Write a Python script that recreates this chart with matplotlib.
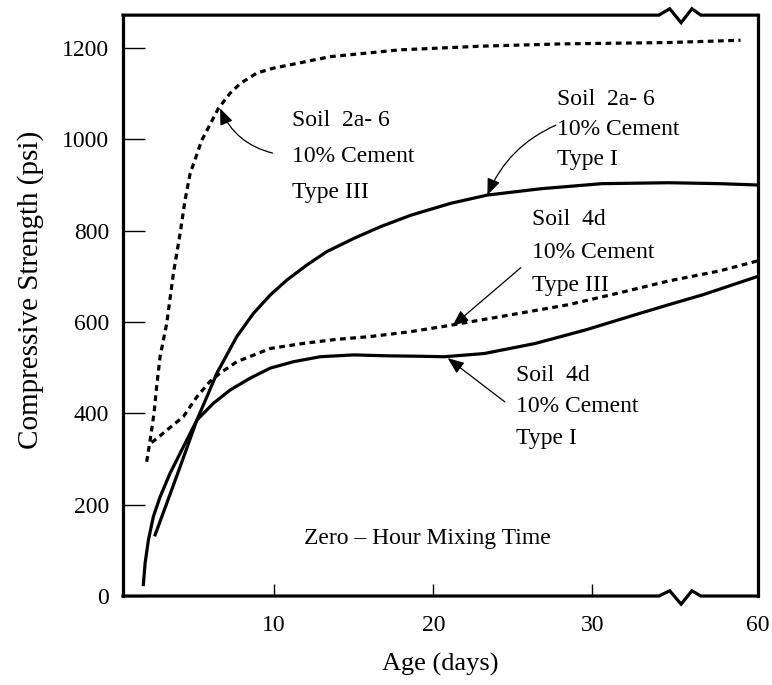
import matplotlib
matplotlib.use("Agg")
import matplotlib.pyplot as plt
import numpy as np

plt.rcParams['font.family'] = ['Liberation Serif', 'DejaVu Serif']

# Age (days) and compressive strength (psi)
soil4d_t1_days = [1.78, 1.89, 2.1, 2.41, 2.83, 3.46, 4.3, 5.14, 6.18, 7.23, 8.49, 9.75, 11.2, 12.9,
                  15.0, 17.1, 19.2, 20.7, 23.2, 26.4, 29.6, 32.7, 34.8, 43.1, 60]
soil4d_t1_psi = [25, 72, 123, 174, 217, 269, 327, 385, 422, 451, 477, 499, 513, 524,
                 528, 526, 525, 524, 531, 553, 583, 616, 638, 660, 700]

soil2a_t1_days = [2.52, 3.25, 4.09, 5.14, 5.77, 6.4, 7.65, 8.7, 9.75, 10.8, 12.06, 13.3, 15.0, 16.7,
                  18.6, 21.1, 23.4, 26.8, 30.6, 34.8, 48.2, 60]
soil2a_t1_psi = [134, 203, 283, 385, 436, 488, 568, 619, 659, 692, 725, 754, 783, 809,
                 834, 860, 878, 892, 903, 905, 903, 900]

soil2a_t3_days = [1.99, 2.2, 2.45, 2.62, 2.83, 3.25, 3.67, 4.09, 4.4, 4.72, 5.45, 6.5, 7.23, 7.86,
                  8.9, 9.96, 11.4, 13.5, 17.9, 23.0, 28.0, 34.8, 54.6]
soil2a_t3_psi = [294, 340, 400, 460, 524, 597, 707, 794, 867, 925, 998, 1068, 1101, 1122,
                 1145, 1156, 1166, 1181, 1196, 1204, 1209, 1212, 1217]

soil4d_t3_days = [2.3, 2.8, 3.25, 4.3, 5.14, 5.97, 6.6, 7.65, 9.75, 11.8, 13.9, 16.0, 18.6, 21.1,
                  24.9, 28.5, 31.7, 34.8, 48.2, 60]
soil4d_t3_psi = [336, 350, 363, 393, 436, 470, 488, 513, 542, 553, 562, 568, 579, 593,
                 616, 638, 664, 690, 712, 734]

x_ticks = [10, 20, 30, 60]
y_ticks = [0, 200, 400, 600, 800, 1000, 1200]

# broken x axis: days past the break are squeezed
BRK = 35.4
K = 5.0 / 24.6


def fwd(x):
    x = np.asarray(x, dtype=float)
    return np.where(x <= BRK, x, BRK + (x - BRK) * K)


def inv(u):
    u = np.asarray(u, dtype=float)
    return np.where(u <= BRK, u, BRK + (u - BRK) / K)


fig = plt.figure(figsize=(7.72, 6.85), dpi=100)
ax = fig.add_axes([0.1593, 0.1299, 0.8225, 0.848])
ax.set_xscale('function', functions=(fwd, inv))

lw = 2.3
dots = (0, (1.8, 1.4))
ax.plot(soil4d_t1_days, soil4d_t1_psi, color='black', lw=lw, solid_joinstyle='round')
ax.plot(soil2a_t1_days, soil2a_t1_psi, color='black', lw=lw, solid_joinstyle='round')
ax.plot(soil2a_t3_days, soil2a_t3_psi, color='black', lw=lw, linestyle=dots)
ax.plot(soil4d_t3_days, soil4d_t3_psi, color='black', lw=lw, linestyle=dots)

ax.set_xlim(0.5, 60)
ax.set_ylim(0, 1272)
ax.set_xticks(x_ticks)
ax.set_yticks(y_ticks)
ax.tick_params(axis='both', direction='in', labelsize=17, width=1.0, color='black')
ax.tick_params(axis='y', length=16, pad=10)
ax.tick_params(axis='x', length=9, pad=14)
# no tick at the 60 end
ax.xaxis.get_major_ticks()[-1].tick1line.set_visible(False)

ax.set_xlabel('Age (days)', fontsize=19, labelpad=12)
ax.set_ylabel('Compressive Strength (psi)', fontsize=21)
ax.yaxis.set_label_coords(-0.125, 0.527)

# frame with break marks on top and bottom
for s in ['top', 'bottom']:
    ax.spines[s].set_visible(False)
for s in ['left', 'right']:
    ax.spines[s].set_linewidth(2.3)
zx = [0, 0.844, 0.861, 0.879, 0.896, 0.91, 1]
ztop = [1, 1, 1.011, 0.987, 1.011, 1, 1]
zbot = [0, 0, 0.009, -0.014, 0.009, 0, 0]
ax.plot(zx, ztop, transform=ax.transAxes, color='black', lw=2.3, clip_on=False, solid_joinstyle='miter')
ax.plot(zx, zbot, transform=ax.transAxes, color='black', lw=2.3, clip_on=False, solid_joinstyle='miter')

tfs = 17
ax.text(11.1, 962, 'Soil  2a- 6\n10% Cement\nType III', fontsize=tfs, ha='left', va='center', linespacing=1.94)
ax.text(27.8, 1022, 'Soil  2a- 6\n10% Cement\nType I', fontsize=tfs, ha='left', va='center', linespacing=1.55)
ax.text(26.2, 752, 'Soil  4d\n10% Cement\nType III', fontsize=tfs, ha='left', va='center', linespacing=1.73)
ax.text(25.2, 414, 'Soil  4d\n10% Cement\nType I', fontsize=tfs, ha='left', va='center', linespacing=1.65)
ax.text(19.6, 125, 'Zero \u2013 Hour Mixing Time', fontsize=tfs, ha='center', va='center')

ap = dict(arrowstyle='-|>,head_length=0.5,head_width=0.2', color='black', lw=0.9,
          mutation_scale=20, shrinkA=0, shrinkB=0)
ax.annotate('', xy=(6.6, 1068), xytext=(9.9, 970),
            arrowprops=dict(ap, connectionstyle='arc3,rad=-0.25'))
ax.annotate('', xy=(23.4, 878), xytext=(27.7, 1031),
            arrowprops=dict(ap, connectionstyle='arc3,rad=0.2'))
ax.annotate('', xy=(21.2, 591), xytext=(25.5, 719), arrowprops=ap)
ax.annotate('', xy=(20.9, 521), xytext=(24.5, 425), arrowprops=ap)

fig.savefig('out.png', dpi=100)
